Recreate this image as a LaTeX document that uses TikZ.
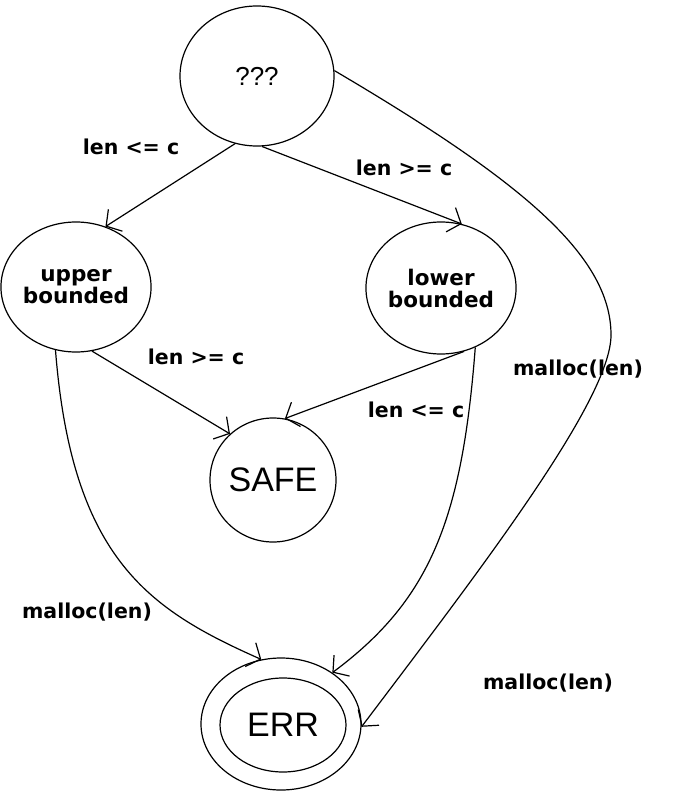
\documentclass[tikz,border=0pt]{standalone}
\usepackage{fontspec}
\setmainfont{Liberation Sans}
\newfontfamily\lblfont{DejaVu Sans}
\usetikzlibrary{arrows.meta,shapes.geometric}

\begin{document}
\begin{tikzpicture}[x=1pt,y=-1pt,
  state/.style={draw, ellipse, inner sep=0pt, line width=1.2pt},
  bigname/.style={font=\fontsize{34}{38}\selectfont},
  boldname/.style={font=\lblfont\bfseries\fontsize{21.5}{24}\selectfont, align=center},
  edgelabel/.style={font=\lblfont\bfseries\fontsize{20.5}{22}\selectfont, inner sep=0pt},
  wire/.style={draw, line width=1.2pt},
  edge/.style={wire, -{Straight Barb[length=11pt,width=26pt,line width=1.2pt]}}
]
\useasboundingbox (0,0) rectangle (676,791);

% states
\node[state, minimum width=154pt, minimum height=140pt,
      font=\fontsize{26}{30}\selectfont] (Q) at (257,76) {???};
\node[state, boldname, minimum width=132pt, minimum height=130pt] (U) at (76,287) {upper\\[-2pt]bounded};
\node[state, boldname, minimum width=114pt, minimum height=132pt] (L) at (441,288) {lower\\[-2pt]bounded};
\node[state, bigname, minimum width=126pt, minimum height=124pt] (S) at (273,480) {SAFE};
\node[state, minimum width=160pt, minimum height=132pt] (E) at (281,724) {};
\node[state, bigname, minimum width=126pt, minimum height=94pt] (Ein) at (283,725) {ERR};

% waypoint of the long curve on the right
\coordinate (qbend) at (611,335);

% transitions
\draw[edge] (Q.252) -- (U.64);
\draw[edge] (Q.274) -- (L.72);
\draw[edge] (U.284) -- (S.133);
\draw[edge] (L.290) -- (S.79);
\draw[edge] (U.252) .. controls (72,560) and (150,610) .. (E.107);
\draw[edge] (L.300) .. controls (462,520) and (430,600) .. (E.45);
\draw[wire] (Q.4) .. controls (520,180) and (611,255) .. (qbend);
\draw[edge] (qbend) .. controls (611,400) and (480,570) .. (E.-2);

% labels
\node[edgelabel] (l1) at (131,147) {len <= c};
\node[edgelabel] (l2) at (404,168) {len >= c};
\node[edgelabel] (l3) at (196,357) {len >= c};
\node[edgelabel] (l4) at (416,410) {len <= c};
\node[edgelabel] (l5) at (578,369) {malloc(len)};
\node[edgelabel] (l6) at (87,612) {malloc(len)};
\node[edgelabel] (l7) at (548,683) {malloc(len)};
\end{tikzpicture}
\end{document}
